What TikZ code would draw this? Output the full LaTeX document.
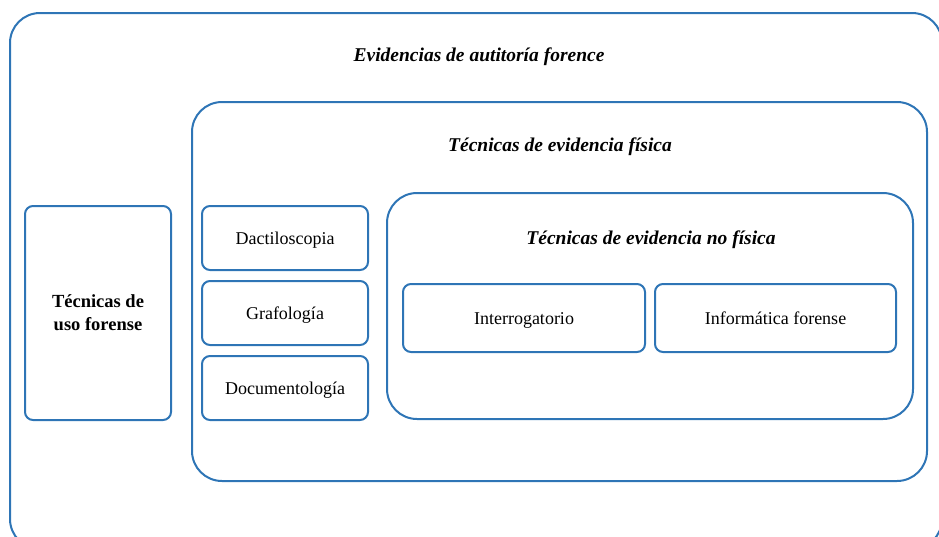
\documentclass[tikz,border=0pt]{standalone}
\usepackage{fontspec}
\setmainfont{Liberation Serif}
\usetikzlibrary{shapes,positioning}
\definecolor{azul}{HTML}{2E75B6}
\tikzstyle{marco} = [draw=azul, line width=2pt, rounded corners=30pt, inner sep=0pt, anchor=north west]
\tikzstyle{caja} = [draw=azul, line width=2pt, rounded corners=8pt, align=center, font=\fontsize{18}{22}\selectfont]
\tikzstyle{linea} = [caja, text height=14pt, text depth=2pt]
\tikzstyle{titulo} = [font=\fontsize{19.5}{23}\selectfont\bfseries\itshape]

\begin{document}
\begin{tikzpicture}[x=1pt,y=-1pt]
  \useasboundingbox (0,0) rectangle (939,536);
  % Marcos
  \node[marco, minimum width=932pt, minimum height=536pt] (evid) at (9,12) {};
  \node[marco, minimum width=735pt, minimum height=379pt] (fis) at (191,101) {};
  \node[marco, minimum width=526pt, minimum height=226pt] (nofis) at (386,192) {};
  % Titulos
  \node[titulo] (tevid) at (479,57) {Evidencias de autitoría forence};
  \node[titulo] (tfis) at (560,147) {Técnicas de evidencia física};
  \node[titulo] (tnofis) at (651,240) {Técnicas de evidencia no física};
  % Cajas
  \node[caja, font=\fontsize{18.5}{23}\selectfont\bfseries, minimum width=146pt, minimum height=214pt] (uso) at (98,313) {Técnicas de\\uso forense};
  \node[linea, minimum width=166pt, minimum height=64pt] (dacti) at (285,238) {Dactiloscopia};
  \node[linea, minimum width=166pt, minimum height=64pt] (grafo) at (285,313) {Grafología};
  \node[linea, minimum width=166pt, minimum height=64pt] (docu) at (285,388) {Documentología};
  \node[linea, minimum width=242pt, minimum height=68pt] (inter) at (524,318) {Interrogatorio};
  \node[linea, minimum width=241pt, minimum height=68pt] (infor) at (775.5,318) {Informática forense};
\end{tikzpicture}
\end{document}
